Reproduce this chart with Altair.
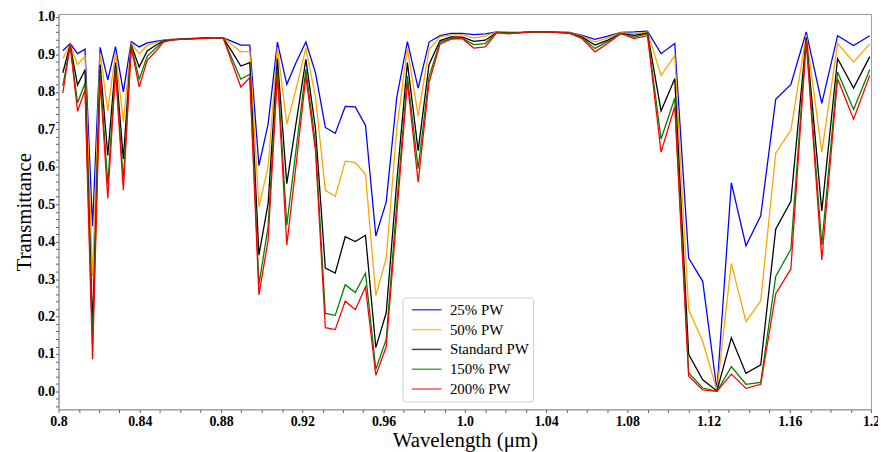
import altair as alt
import pandas as pd

# Wavelength grid (micrometres)
wavelength = [0.80212, 0.80573, 0.80936, 0.81303, 0.81674, 0.82048, 0.82425, 0.82806, 0.83191, 0.83579,
              0.83970, 0.84366, 0.84765, 0.85168, 0.85575, 0.85985, 0.86399, 0.86818, 0.87240, 0.87667,
              0.88098, 0.88533, 0.88973, 0.89416, 0.89865, 0.90318, 0.90775, 0.91237, 0.91704, 0.92176,
              0.92653, 0.93134, 0.93621, 0.94113, 0.94609, 0.95111, 0.95619, 0.96132, 0.96650, 0.97175,
              0.97704, 0.98240, 0.98781, 0.99328, 0.99882, 1.00442, 1.01008, 1.01581, 1.02160, 1.02746,
              1.03338, 1.03937, 1.04543, 1.05157, 1.05777, 1.06406, 1.07041, 1.07685, 1.08336, 1.08995,
              1.09661, 1.10336, 1.11020, 1.11712, 1.12413, 1.13122, 1.13841, 1.14569, 1.15306, 1.16053,
              1.16809, 1.17575, 1.18352, 1.19138, 1.19936]

pw25 = [0.910, 0.929, 0.902, 0.914, 0.441, 0.919, 0.832, 0.921, 0.800, 0.934,
        0.920, 0.931, 0.935, 0.938, 0.940, 0.941, 0.942, 0.943, 0.944, 0.944,
        0.945, 0.935, 0.925, 0.925, 0.603, 0.714, 0.933, 0.820, 0.880, 0.933,
        0.850, 0.705, 0.689, 0.761, 0.760, 0.710, 0.415, 0.506, 0.785, 0.934,
        0.810, 0.933, 0.950, 0.956, 0.956, 0.953, 0.955, 0.960, 0.959, 0.959,
        0.960, 0.960, 0.960, 0.959, 0.951, 0.940, 0.949, 0.959, 0.960, 0.962,
        0.902, 0.929, 0.356, 0.294, 0.003, 0.557, 0.389, 0.469, 0.780, 0.820,
        0.960, 0.769, 0.950, 0.924, 0.950]

pw50 = [0.889, 0.927, 0.873, 0.895, 0.307, 0.904, 0.749, 0.904, 0.720, 0.930,
        0.902, 0.924, 0.931, 0.937, 0.940, 0.941, 0.942, 0.943, 0.944, 0.944,
        0.945, 0.926, 0.907, 0.908, 0.493, 0.600, 0.919, 0.714, 0.810, 0.917,
        0.785, 0.537, 0.521, 0.615, 0.611, 0.580, 0.256, 0.356, 0.700, 0.916,
        0.736, 0.913, 0.947, 0.952, 0.952, 0.944, 0.949, 0.960, 0.958, 0.959,
        0.960, 0.960, 0.960, 0.958, 0.949, 0.933, 0.944, 0.958, 0.955, 0.960,
        0.844, 0.897, 0.218, 0.133, 0.002, 0.342, 0.186, 0.242, 0.636, 0.698,
        0.952, 0.639, 0.929, 0.880, 0.928]

pw100 = [0.851, 0.926, 0.818, 0.859, 0.171, 0.873, 0.630, 0.878, 0.621, 0.926,
         0.866, 0.909, 0.924, 0.936, 0.939, 0.941, 0.942, 0.943, 0.944, 0.944,
         0.945, 0.908, 0.869, 0.878, 0.364, 0.502, 0.889, 0.555, 0.720, 0.887,
         0.700, 0.329, 0.316, 0.413, 0.400, 0.417, 0.117, 0.210, 0.560, 0.878,
         0.643, 0.873, 0.937, 0.947, 0.946, 0.935, 0.938, 0.959, 0.957, 0.958,
         0.960, 0.960, 0.959, 0.957, 0.946, 0.925, 0.938, 0.956, 0.951, 0.957,
         0.749, 0.835, 0.099, 0.031, 0.001, 0.143, 0.048, 0.071, 0.433, 0.508,
         0.945, 0.482, 0.889, 0.810, 0.894]

pw150 = [0.816, 0.925, 0.771, 0.823, 0.125, 0.850, 0.553, 0.863, 0.563, 0.924,
         0.834, 0.895, 0.916, 0.935, 0.939, 0.940, 0.941, 0.942, 0.943, 0.944,
         0.945, 0.890, 0.834, 0.847, 0.285, 0.440, 0.860, 0.444, 0.650, 0.860,
         0.660, 0.208, 0.203, 0.285, 0.264, 0.316, 0.059, 0.139, 0.500, 0.842,
         0.595, 0.840, 0.933, 0.943, 0.943, 0.926, 0.929, 0.959, 0.956, 0.958,
         0.960, 0.960, 0.959, 0.957, 0.944, 0.916, 0.935, 0.956, 0.946, 0.955,
         0.674, 0.783, 0.049, 0.009, 0.000, 0.066, 0.019, 0.024, 0.307, 0.380,
         0.940, 0.391, 0.853, 0.753, 0.860]

pw200 = [0.797, 0.924, 0.748, 0.806, 0.086, 0.832, 0.515, 0.856, 0.537, 0.919,
         0.813, 0.884, 0.907, 0.933, 0.938, 0.940, 0.941, 0.942, 0.943, 0.944,
         0.945, 0.879, 0.813, 0.838, 0.258, 0.404, 0.847, 0.391, 0.610, 0.842,
         0.640, 0.170, 0.165, 0.241, 0.218, 0.279, 0.043, 0.119, 0.470, 0.827,
         0.559, 0.825, 0.928, 0.941, 0.942, 0.917, 0.920, 0.958, 0.955, 0.958,
         0.960, 0.960, 0.959, 0.957, 0.942, 0.907, 0.930, 0.956, 0.942, 0.950,
         0.639, 0.761, 0.041, 0.004, 0.000, 0.046, 0.008, 0.019, 0.261, 0.327,
         0.935, 0.351, 0.835, 0.727, 0.844]

series_names = ["25% PW", "50% PW", "Standard PW", "150% PW", "200% PW"]
series_colors = ["#0000ff", "#ffa500", "#000000", "#008000", "#ff0000"]
series_values = [pw25, pw50, pw100, pw150, pw200]

x_major = [0.8, 0.84, 0.88, 0.92, 0.96, 1.0, 1.04, 1.08, 1.12, 1.16, 1.2]
y_major = [0.0, 0.1, 0.2, 0.3, 0.4, 0.5, 0.6, 0.7, 0.8, 0.9, 1.0]
x_ticks = [round(0.8 + 0.01 * i, 2) for i in range(41)]
y_ticks = [round(-0.04 + 0.02 * i, 2) for i in range(53)]

rows = []
for name, vals in zip(series_names, series_values):
    for w, v in zip(wavelength, vals):
        rows.append({"wavelength": w, "T": v, "series": name})
df = pd.DataFrame(rows)

FONT = "Liberation Serif"

x_axis = alt.Axis(
    values=x_ticks,
    labelExpr="round(datum.value*100) % 4 == 0 ? (round(datum.value*100) % 10 == 0 ? format(datum.value, '.1f') : format(datum.value, '.2f')) : ''",
    title="Wavelength (μm)",
    labelFont=FONT, labelFontWeight="bold", labelFontSize=14, labelColor="black",
    titleFont=FONT, titleFontSize=21, titleFontWeight="normal", titleColor="black",
    tickSize=3, tickColor="#555", domainColor="#999", grid=False,
    labelFlush=False, labelOverlap=False, labelPadding=2, titlePadding=1,
)
y_axis = alt.Axis(
    values=y_ticks,
    labelExpr="abs(round(datum.value*50) % 5) == 0 ? format(datum.value, '.1f') : ''",
    title="Transmittance",
    labelFont=FONT, labelFontWeight="bold", labelFontSize=14, labelColor="black",
    titleFont=FONT, titleFontSize=21, titleFontWeight="normal", titleColor="black",
    tickSize=3, tickColor="#555", domainColor="#999", grid=False,
    labelFlush=False, labelOverlap=False, labelPadding=1, titlePadding=3,
)

legend = alt.Legend(
    orient="none", legendX=347, legendY=286, title=None,
    symbolType="M-2,0H2", symbolSize=225, symbolStrokeWidth=1.5, symbolOpacity=0.7,
    labelFont=FONT, labelFontSize=15, labelColor="black",
    padding=4, rowPadding=3, strokeColor="#cccccc", cornerRadius=3, fillColor="white",
    symbolOffset=12, labelOffset=15, labelLimit=300,
)

chart = alt.Chart(df).mark_line(strokeWidth=1.3, clip=True).encode(
    x=alt.X("wavelength:Q", scale=alt.Scale(domain=[0.8, 1.2], nice=False, zero=False), axis=x_axis),
    y=alt.Y("T:Q", scale=alt.Scale(domain=[-0.048, 1.008], nice=False, zero=False), axis=y_axis),
    color=alt.Color("series:N", sort=series_names,
                    scale=alt.Scale(domain=series_names, range=series_colors), legend=legend),
    detail="series:N",
).properties(
    width=820, height=399,
    autosize="none",
    padding={"left": 51, "top": 4, "right": 7, "bottom": 41},
    title=alt.TitleParams("Lamont,OK", font=FONT, fontSize=20, fontWeight="bold", color="black",
                          anchor="middle", offset=4),
).configure_view(stroke="#999", strokeWidth=1)

chart.save("out.html", embed_options={"renderer": "svg", "actions": False})
